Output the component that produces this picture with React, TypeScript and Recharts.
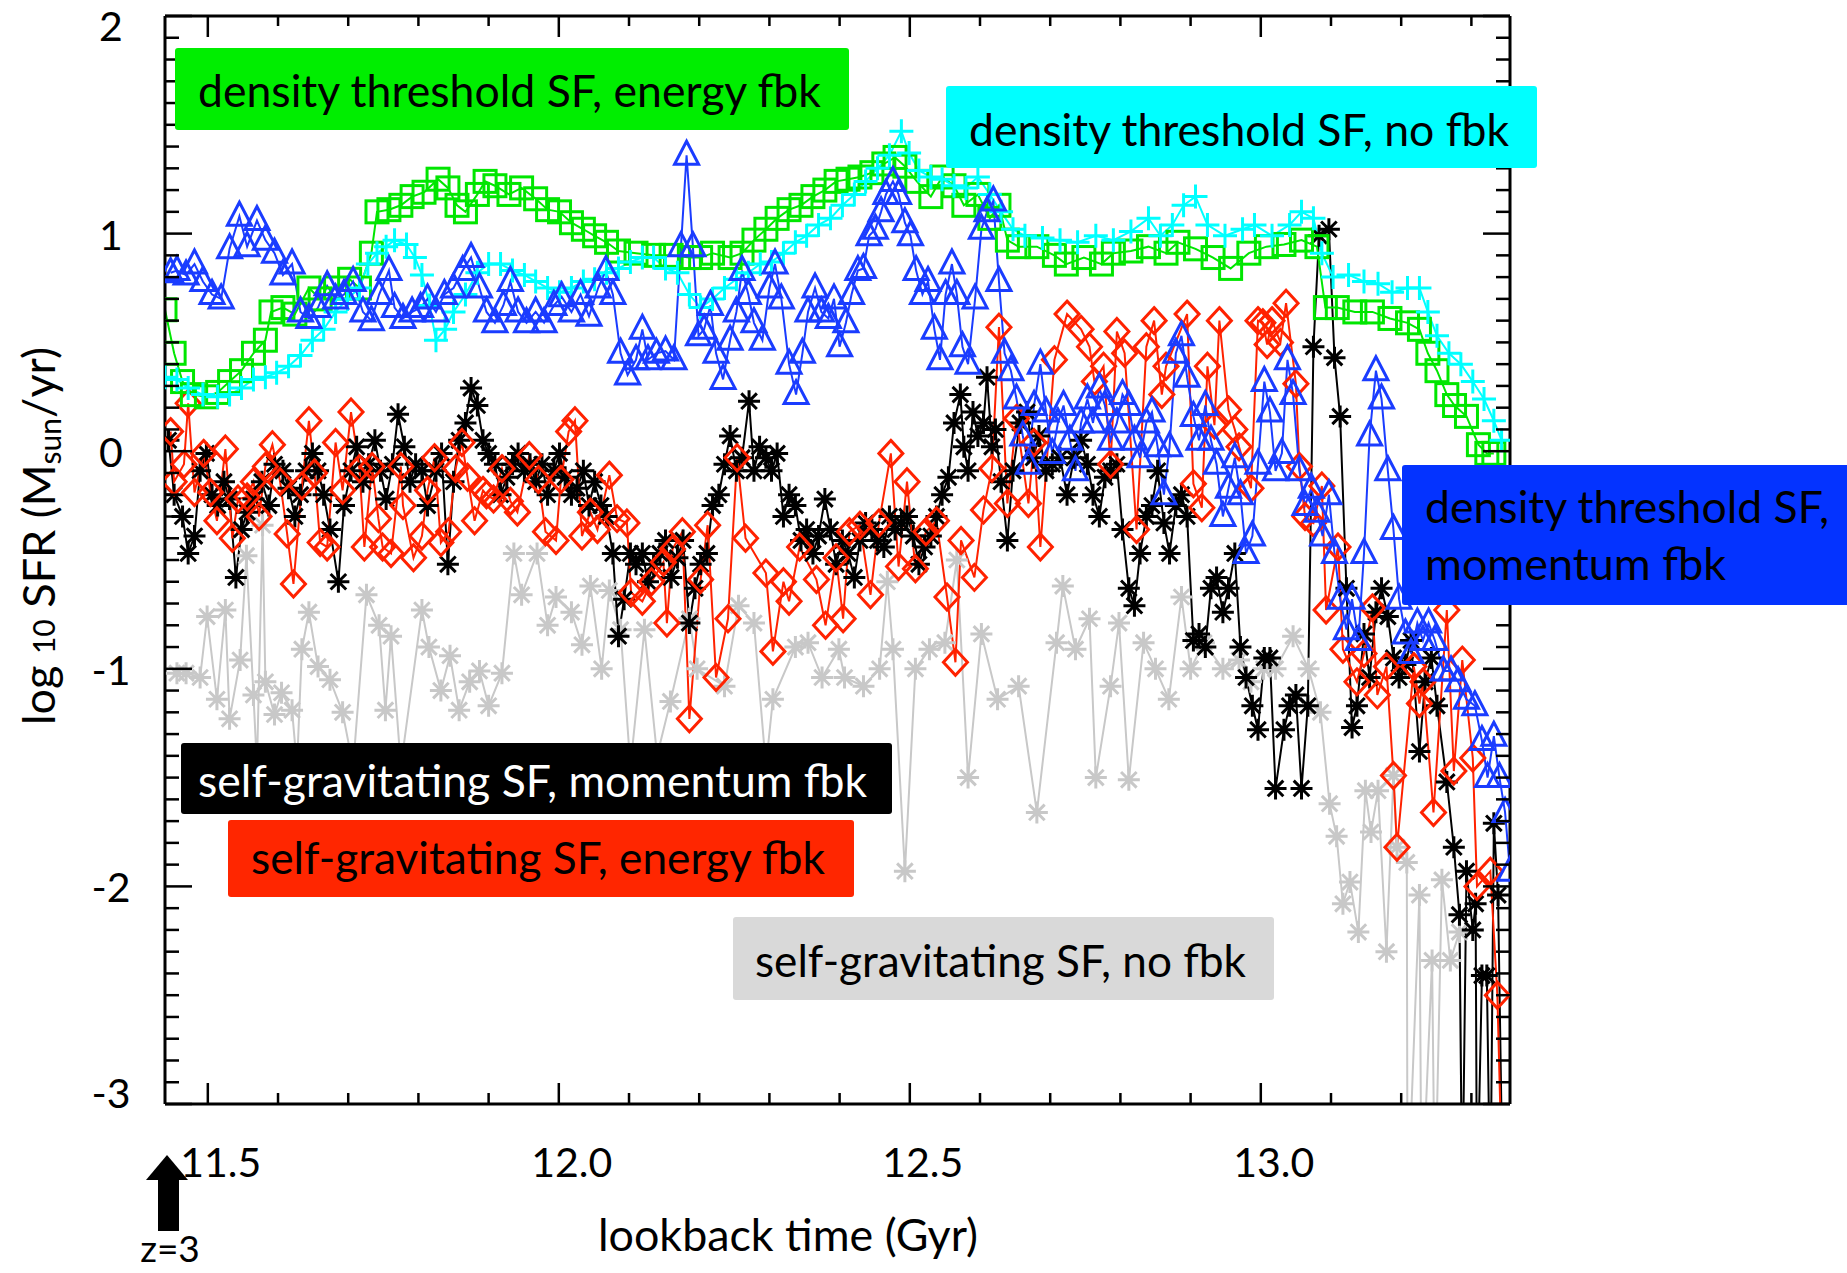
import React from 'react';
import { ComposedChart, Line, XAxis, YAxis } from 'recharts';

const W = 1847;
const H = 1273;
const PLOT = { left: 165, top: 16, right: 1510, bottom: 1104 };
const FONT = 'Lato, "Open Sans", sans-serif';

const X_DOMAIN = [11.439, 13.355];
const Y_DOMAIN = [-3, 2];
const X_TICKS = [11.5, 11.6, 11.7, 11.8, 11.9, 12.0, 12.1, 12.2, 12.3, 12.4, 12.5, 12.6, 12.7, 12.8, 12.9, 13.0, 13.1, 13.2, 13.3];
const X_LABELS = [11.5, 12.0, 12.5, 13.0];
const Y_LABELS = [-3, -2, -1, 0, 1, 2];
const Y_TICKS = Array.from({ length: 51 }, (_, i) => Math.round((-3 + i * 0.1) * 10) / 10);

// density threshold SF, energy fbk
const GREEN = [
  [11.439, 0.65], [11.452, 0.45], [11.464, 0.32], [11.478, 0.26], [11.498, 0.25], [11.514, 0.27], [11.531, 0.32],
  [11.548, 0.37], [11.565, 0.45], [11.582, 0.51], [11.59, 0.64], [11.607, 0.66], [11.624, 0.63], [11.644, 0.75],
  [11.66, 0.7], [11.682, 0.75], [11.702, 0.79], [11.716, 0.75], [11.733, 0.91], [11.741, 1.1], [11.758, 1.11],
  [11.775, 1.13], [11.791, 1.17], [11.808, 1.19], [11.828, 1.25], [11.842, 1.21], [11.855, 1.13], [11.867, 1.1],
  [11.884, 1.18], [11.895, 1.24], [11.909, 1.22], [11.929, 1.18], [11.947, 1.21], [11.967, 1.16], [11.984, 1.11],
  [12.001, 1.1], [12.018, 1.05], [12.035, 1.02], [12.051, 0.99], [12.068, 0.96], [12.085, 0.92], [12.11, 0.91],
  [12.135, 0.9], [12.16, 0.9], [12.186, 0.89], [12.202, 0.89], [12.219, 0.91], [12.244, 0.89], [12.261, 0.91],
  [12.278, 0.97], [12.295, 1.02], [12.311, 1.07], [12.328, 1.11], [12.345, 1.13], [12.362, 1.17], [12.379, 1.2],
  [12.395, 1.24], [12.412, 1.25], [12.429, 1.26], [12.446, 1.28], [12.463, 1.32], [12.479, 1.35], [12.493, 1.31],
  [12.51, 1.24], [12.53, 1.17], [12.546, 1.26], [12.563, 1.22], [12.577, 1.13], [12.597, 1.18], [12.614, 1.07],
  [12.627, 1.13], [12.639, 0.97], [12.655, 0.94], [12.681, 0.94], [12.706, 0.9], [12.723, 0.86], [12.748, 0.89],
  [12.773, 0.86], [12.79, 0.91], [12.815, 0.92], [12.84, 0.94], [12.865, 0.91], [12.882, 0.96], [12.907, 0.93],
  [12.932, 0.89], [12.957, 0.84], [12.983, 0.91], [13.008, 0.94], [13.033, 0.95], [13.058, 0.97], [13.08, 0.94],
  [13.092, 0.66], [13.109, 0.66], [13.134, 0.64], [13.159, 0.64], [13.184, 0.61], [13.209, 0.59], [13.226, 0.56],
  [13.238, 0.45], [13.251, 0.37], [13.265, 0.26], [13.276, 0.21], [13.293, 0.16], [13.31, 0.03], [13.322, -0.01],
  [13.332, -0.01],
];

// density threshold SF, no fbk
const CYAN = [
  [11.439, 0.34], [11.456, 0.33], [11.472, 0.29], [11.493, 0.26], [11.514, 0.25], [11.531, 0.26], [11.548, 0.29],
  [11.565, 0.33], [11.582, 0.34], [11.598, 0.36], [11.615, 0.39], [11.632, 0.44], [11.649, 0.51], [11.665, 0.56],
  [11.682, 0.64], [11.699, 0.7], [11.716, 0.75], [11.728, 0.86], [11.741, 0.91], [11.754, 0.94], [11.766, 0.97],
  [11.783, 0.95], [11.795, 0.89], [11.805, 0.81], [11.816, 0.67], [11.825, 0.51], [11.838, 0.56], [11.85, 0.64],
  [11.867, 0.72], [11.884, 0.82], [11.9, 0.86], [11.917, 0.86], [11.934, 0.83], [11.951, 0.81], [11.967, 0.78],
  [11.984, 0.75], [12.001, 0.73], [12.018, 0.75], [12.035, 0.78], [12.051, 0.79], [12.068, 0.82], [12.085, 0.84],
  [12.102, 0.87], [12.119, 0.89], [12.135, 0.89], [12.152, 0.84], [12.169, 0.82], [12.186, 0.72], [12.202, 0.66],
  [12.219, 0.7], [12.236, 0.75], [12.253, 0.79], [12.27, 0.82], [12.287, 0.86], [12.303, 0.87], [12.32, 0.91],
  [12.337, 0.96], [12.353, 0.99], [12.37, 1.04], [12.387, 1.07], [12.404, 1.13], [12.421, 1.18], [12.437, 1.24],
  [12.454, 1.3], [12.471, 1.36], [12.488, 1.47], [12.499, 1.37], [12.513, 1.29], [12.53, 1.26], [12.546, 1.25],
  [12.563, 1.22], [12.58, 1.21], [12.597, 1.26], [12.614, 1.18], [12.63, 1.1], [12.647, 1.02], [12.664, 0.99],
  [12.689, 0.98], [12.714, 0.97], [12.739, 0.96], [12.765, 0.99], [12.79, 0.97], [12.815, 1.01], [12.84, 1.07],
  [12.857, 0.99], [12.874, 1.04], [12.89, 1.13], [12.907, 1.17], [12.924, 1.04], [12.949, 0.99], [12.974, 1.02],
  [12.991, 1.04], [13.016, 0.99], [13.041, 1.04], [13.058, 1.1], [13.075, 1.07], [13.087, 0.91], [13.103, 0.8],
  [13.125, 0.81], [13.147, 0.78], [13.167, 0.77], [13.187, 0.73], [13.209, 0.75], [13.226, 0.75], [13.238, 0.64],
  [13.251, 0.53], [13.268, 0.45], [13.285, 0.4], [13.302, 0.32], [13.318, 0.24], [13.332, 0.14], [13.343, 0.05],
];

// density threshold SF, momentum fbk
const BLUE = [
  [11.447, 0.82], [11.456, 0.83], [11.469, 0.81], [11.481, 0.86], [11.493, 0.78], [11.506, 0.72], [11.519, 0.7],
  [11.531, 0.93], [11.545, 1.08], [11.556, 0.94], [11.57, 1.06], [11.582, 0.97], [11.595, 0.91], [11.607, 0.81],
  [11.62, 0.86], [11.632, 0.64], [11.644, 0.61], [11.657, 0.66], [11.67, 0.76], [11.682, 0.7], [11.694, 0.72],
  [11.707, 0.78], [11.721, 0.64], [11.733, 0.6], [11.744, 0.72], [11.758, 0.83], [11.766, 0.66], [11.778, 0.61],
  [11.791, 0.64], [11.803, 0.66], [11.813, 0.7], [11.825, 0.64], [11.837, 0.72], [11.85, 0.75], [11.863, 0.83],
  [11.875, 0.89], [11.887, 0.75], [11.897, 0.64], [11.909, 0.59], [11.921, 0.67], [11.931, 0.78], [11.942, 0.64],
  [11.954, 0.59], [11.967, 0.64], [11.979, 0.59], [11.993, 0.67], [12.004, 0.71], [12.018, 0.64], [12.031, 0.72],
  [12.043, 0.62], [12.056, 0.75], [12.067, 0.83], [12.077, 0.72], [12.088, 0.45], [12.098, 0.35], [12.11, 0.42],
  [12.119, 0.56], [12.127, 0.42], [12.139, 0.45], [12.152, 0.46], [12.164, 0.42], [12.174, 0.94], [12.182, 1.36],
  [12.191, 0.94], [12.199, 0.53], [12.207, 0.56], [12.216, 0.67], [12.224, 0.45], [12.234, 0.33], [12.244, 0.51],
  [12.253, 0.64], [12.261, 0.83], [12.27, 0.72], [12.278, 0.59], [12.29, 0.51], [12.3, 0.75], [12.308, 0.86],
  [12.317, 0.7], [12.328, 0.4], [12.338, 0.26], [12.347, 0.45], [12.355, 0.64], [12.365, 0.75], [12.374, 0.64],
  [12.384, 0.61], [12.392, 0.7], [12.4, 0.48], [12.409, 0.59], [12.417, 0.72], [12.426, 0.83], [12.434, 0.84],
  [12.442, 0.99], [12.451, 1.02], [12.459, 1.1], [12.466, 1.18], [12.476, 1.24], [12.484, 1.18], [12.493, 1.05],
  [12.501, 0.99], [12.509, 0.83], [12.518, 0.72], [12.526, 0.78], [12.535, 0.56], [12.543, 0.42], [12.551, 0.72],
  [12.56, 0.86], [12.567, 0.72], [12.575, 0.48], [12.583, 0.4], [12.593, 0.7], [12.602, 1.02], [12.61, 1.1],
  [12.619, 1.15], [12.627, 0.78], [12.635, 0.45], [12.644, 0.37], [12.652, 0.24], [12.661, 0.07], [12.669, -0.06],
  [12.677, 0.21], [12.686, 0.4], [12.694, 0.18], [12.703, -0.01], [12.711, 0.13], [12.719, 0.21], [12.728, 0.05],
  [12.736, -0.09], [12.744, 0.13], [12.753, 0.24], [12.761, 0.13], [12.77, 0.29], [12.778, 0.21], [12.786, 0.05],
  [12.795, 0.13], [12.803, 0.26], [12.812, 0.21], [12.82, 0.05], [12.828, -0.03], [12.837, 0.13], [12.845, 0.18],
  [12.853, 0.02], [12.862, -0.2], [12.87, 0.02], [12.879, 0.45], [12.887, 0.53], [12.895, 0.34], [12.904, 0.16],
  [12.912, 0.05], [12.921, 0.21], [12.929, 0.05], [12.937, -0.06], [12.946, -0.3], [12.954, -0.17], [12.963, -0.03],
  [12.971, -0.2], [12.979, -0.47], [12.988, -0.39], [12.996, -0.06], [13.005, 0.32], [13.013, 0.18], [13.021, -0.09],
  [13.03, -0.01], [13.038, 0.42], [13.046, 0.26], [13.055, -0.09], [13.063, -0.25], [13.072, -0.17], [13.08, -0.28],
  [13.088, -0.39], [13.097, -0.2], [13.105, -0.47], [13.113, -0.68], [13.122, -0.82], [13.13, -0.68], [13.139, -0.87],
  [13.147, -0.47], [13.155, 0.07], [13.164, 0.37], [13.172, 0.24], [13.181, -0.09], [13.189, -0.36], [13.197, -0.68],
  [13.206, -0.84], [13.214, -0.93], [13.223, -0.79], [13.231, -0.87], [13.239, -0.79], [13.248, -0.87], [13.26, -1.01],
  [13.271, -1.01], [13.281, -1.06], [13.293, -1.14], [13.305, -1.17], [13.315, -1.33], [13.323, -1.5], [13.332, -1.31],
  [13.34, -1.5], [13.348, -1.66], [13.355, -1.93],
];

// self-gravitating SF, momentum fbk
const BLACK = [
  [11.444, 0.05], [11.452, -0.2], [11.464, -0.3], [11.472, -0.47], [11.481, -0.39], [11.489, -0.09], [11.498, -0.01],
  [11.506, -0.2], [11.514, -0.25], [11.523, -0.14], [11.531, -0.22], [11.54, -0.58], [11.548, -0.36], [11.556, -0.28],
  [11.565, -0.22], [11.577, -0.14], [11.587, -0.25], [11.595, -0.06], [11.607, -0.09], [11.615, -0.17], [11.624, -0.3],
  [11.632, -0.2], [11.64, -0.09], [11.649, -0.01], [11.657, -0.09], [11.665, -0.2], [11.674, -0.36], [11.686, -0.6],
  [11.694, -0.25], [11.704, -0.09], [11.712, 0.02], [11.721, -0.14], [11.729, -0.06], [11.738, 0.05], [11.746, -0.09],
  [11.754, -0.22], [11.763, -0.06], [11.771, 0.17], [11.78, 0.02], [11.788, -0.14], [11.796, -0.06], [11.805, -0.09],
  [11.813, -0.25], [11.825, -0.09], [11.833, -0.01], [11.842, -0.52], [11.85, -0.14], [11.858, 0.05], [11.867, 0.13],
  [11.875, 0.29], [11.884, 0.21], [11.892, 0.05], [11.9, -0.01], [11.909, -0.06], [11.917, -0.2], [11.926, -0.12],
  [11.934, -0.06], [11.942, -0.01], [11.951, -0.09], [11.959, -0.06], [11.967, -0.14], [11.976, -0.06], [11.984, -0.2],
  [11.993, -0.09], [12.001, -0.01], [12.009, -0.12], [12.018, -0.2], [12.026, -0.17], [12.035, -0.09], [12.043, -0.25],
  [12.051, -0.14], [12.06, -0.25], [12.068, -0.3], [12.077, -0.47], [12.085, -0.85], [12.093, -0.68], [12.102, -0.47],
  [12.11, -0.52], [12.119, -0.47], [12.127, -0.6], [12.135, -0.52], [12.144, -0.47], [12.152, -0.41], [12.16, -0.58],
  [12.169, -0.49], [12.177, -0.41], [12.186, -0.79], [12.194, -0.63], [12.202, -0.52], [12.211, -0.47], [12.219, -0.25],
  [12.228, -0.2], [12.236, -0.06], [12.244, 0.07], [12.253, -0.09], [12.261, -0.03], [12.271, 0.23], [12.278, -0.09],
  [12.286, 0.02], [12.295, -0.03], [12.303, -0.09], [12.311, -0.01], [12.32, -0.3], [12.328, -0.2], [12.337, -0.25],
  [12.345, -0.41], [12.353, -0.36], [12.362, -0.47], [12.37, -0.39], [12.379, -0.22], [12.387, -0.36], [12.395, -0.52],
  [12.404, -0.41], [12.412, -0.47], [12.421, -0.58], [12.429, -0.41], [12.437, -0.33], [12.446, -0.36], [12.454, -0.41],
  [12.463, -0.44], [12.471, -0.3], [12.479, -0.36], [12.488, -0.33], [12.496, -0.3], [12.505, -0.39], [12.513, -0.52],
  [12.521, -0.44], [12.53, -0.39], [12.538, -0.3], [12.546, -0.2], [12.555, -0.12], [12.563, 0.13], [12.572, 0.26],
  [12.577, 0.02], [12.583, -0.09], [12.59, 0.18], [12.597, 0.07], [12.605, 0.13], [12.61, 0.34], [12.617, 0.02],
  [12.622, 0.1], [12.63, -0.14], [12.639, -0.41], [12.647, -0.09], [12.657, 0.13], [12.667, 0.18], [12.676, -0.03],
  [12.684, 0.07], [12.694, -0.09], [12.703, -0.06], [12.714, -0.03], [12.724, -0.2], [12.734, -0.03], [12.744, 0.05],
  [12.753, -0.06], [12.761, -0.2], [12.77, -0.3], [12.778, -0.12], [12.786, -0.09], [12.795, -0.06], [12.803, -0.36],
  [12.812, -0.63], [12.82, -0.71], [12.828, -0.47], [12.837, -0.3], [12.845, -0.25], [12.853, -0.09], [12.862, -0.33],
  [12.87, -0.47], [12.879, -0.25], [12.887, -0.2], [12.895, -0.3], [12.904, -0.87], [12.912, -0.84], [12.921, -0.9],
  [12.929, -0.63], [12.937, -0.58], [12.946, -0.74], [12.954, -0.63], [12.963, -0.47], [12.971, -0.9], [12.979, -1.04],
  [12.988, -1.17], [12.996, -1.28], [13.005, -0.95], [13.013, -0.95], [13.021, -1.55], [13.033, -1.28], [13.041, -1.17],
  [13.05, -1.12], [13.058, -1.55], [13.067, -1.17], [13.075, 0.48], [13.083, 0.99], [13.097, 1.02], [13.105, 0.43],
  [13.113, 0.16], [13.122, -0.63], [13.13, -1.27], [13.137, -1.17], [13.147, -0.84], [13.155, -1.04], [13.164, -0.74],
  [13.172, -0.63], [13.181, -0.76], [13.189, -0.95], [13.197, -1.04], [13.206, -0.98], [13.214, -0.87], [13.226, -1.38],
  [13.234, -1.06], [13.243, -0.95], [13.251, -1.17], [13.265, -1.52], [13.275, -1.82], [13.283, -2.13], [13.287, -3.5],
  [13.293, -1.93], [13.302, -2.2], [13.306, -2.08], [13.308, -3.5], [13.315, -2.41], [13.322, -2.41], [13.327, -3.5],
  [13.332, -1.71], [13.338, -2.04], [13.345, -3.5],
];

// self-gravitating SF, energy fbk
const RED = [
  [11.447, 0.09], [11.452, -0.14], [11.466, -0.06], [11.472, 0.22], [11.481, -0.19], [11.494, -0.01], [11.504, -0.19],
  [11.513, -0.32], [11.525, 0.01], [11.535, -0.4], [11.543, -0.22], [11.556, -0.21], [11.565, -0.14], [11.573, -0.3],
  [11.582, -0.07], [11.592, 0.03], [11.603, -0.14], [11.613, -0.38], [11.622, -0.61], [11.634, -0.16], [11.644, 0.14],
  [11.652, -0.1], [11.66, -0.42], [11.67, -0.44], [11.682, 0.04], [11.692, -0.18], [11.704, 0.18], [11.716, -0.08],
  [11.723, -0.44], [11.734, -0.07], [11.743, -0.31], [11.749, -0.44], [11.761, -0.47], [11.775, -0.07], [11.778, -0.25],
  [11.793, -0.49], [11.805, -0.39], [11.813, -0.18], [11.823, -0.03], [11.832, -0.42], [11.843, -0.37], [11.853, -0.08],
  [11.862, 0.04], [11.87, -0.12], [11.88, -0.32], [11.892, -0.18], [11.897, -0.2], [11.907, -0.22], [11.919, -0.08],
  [11.931, -0.23], [11.941, -0.28], [11.958, -0.02], [11.971, -0.13], [11.981, -0.37], [11.996, -0.41], [12.003, -0.13],
  [12.014, 0.09], [12.023, 0.14], [12.033, -0.39], [12.045, -0.28], [12.055, -0.36], [12.072, -0.11], [12.083, -0.31],
  [12.097, -0.33], [12.103, -0.65], [12.119, -0.69], [12.132, -0.6], [12.149, -0.51], [12.154, -0.79], [12.162, -0.45],
  [12.176, -0.37], [12.186, -1.23], [12.202, -0.59], [12.212, -0.34], [12.224, -1.04], [12.241, -0.77], [12.254, -0.03],
  [12.266, -0.4], [12.295, -0.56], [12.305, -0.92], [12.32, -0.6], [12.328, -0.69], [12.343, -0.44], [12.367, -0.59],
  [12.38, -0.8], [12.395, -0.49], [12.405, -0.77], [12.414, -0.37], [12.429, -0.34], [12.444, -0.66], [12.456, -0.33],
  [12.473, -0.01], [12.484, -0.53], [12.496, -0.14], [12.508, -0.54], [12.523, -0.37], [12.538, -0.32], [12.553, -0.67],
  [12.565, -0.97], [12.573, -0.41], [12.592, -0.58], [12.605, -0.27], [12.617, -0.08], [12.627, 0.57], [12.639, -0.24],
  [12.652, 0.15], [12.669, -0.24], [12.677, 0.04], [12.686, -0.44], [12.706, 0.42], [12.724, 0.63], [12.744, 0.56],
  [12.756, 0.48], [12.763, 0.32], [12.776, 0.39], [12.786, -0.06], [12.795, 0.55], [12.806, 0.45], [12.823, -0.36],
  [12.837, 0.48], [12.848, 0.6], [12.859, 0.26], [12.865, 0.39], [12.895, 0.63], [12.904, -0.15], [12.916, -0.26],
  [12.924, 0.39], [12.934, 0.12], [12.941, 0.6], [12.954, 0.19], [12.963, 0.1], [12.969, 0.02], [12.986, -0.17],
  [12.996, 0.6], [13.003, 0.59], [13.009, 0.49], [13.016, 0.6], [13.028, 0.5], [13.036, 0.68], [13.05, 0.31],
  [13.055, -0.07], [13.063, -0.3], [13.075, -0.33], [13.087, -0.16], [13.093, -0.73], [13.11, -0.44], [13.117, -0.91],
  [13.137, -1.06], [13.147, -0.93], [13.159, -0.72], [13.166, -1.12], [13.179, -0.99], [13.189, -1.49], [13.194, -1.82],
  [13.218, -0.99], [13.226, -1.16], [13.231, -1.06], [13.246, -1.66], [13.265, -0.73], [13.275, -1.47], [13.287, -0.96],
  [13.302, -1.41], [13.308, -2.0], [13.327, -1.93], [13.337, -2.5], [13.345, -3.5],
];

// self-gravitating SF, no fbk
const GREY = [
  [11.456, -1.02], [11.469, -1.02], [11.489, -1.04], [11.499, -0.76], [11.513, -1.14], [11.525, -0.73], [11.531, -1.23],
  [11.546, -0.96], [11.555, -0.48], [11.565, -1.12], [11.57, -1.45], [11.578, -0.34], [11.582, -1.06], [11.595, -1.21],
  [11.605, -1.11], [11.62, -1.19], [11.627, -1.45], [11.634, -0.91], [11.644, -0.74], [11.657, -0.99], [11.674, -1.05],
  [11.692, -1.2], [11.707, -1.45], [11.726, -0.66], [11.744, -0.8], [11.753, -1.19], [11.761, -0.85], [11.775, -1.45],
  [11.805, -0.73], [11.815, -0.9], [11.832, -1.1], [11.845, -0.94], [11.858, -1.19], [11.873, -1.06], [11.887, -1.01],
  [11.9, -1.17], [11.919, -1.02], [11.936, -0.47], [11.947, -0.66], [11.969, -0.47], [11.984, -0.8], [11.996, -0.67],
  [12.018, -0.74], [12.033, -0.89], [12.045, -0.62], [12.061, -1.0], [12.072, -0.64], [12.088, -0.82], [12.102, -1.45],
  [12.122, -0.82], [12.14, -1.4], [12.159, -1.15], [12.186, -0.77], [12.197, -1.0], [12.236, -1.08], [12.256, -0.71],
  [12.278, -0.79], [12.295, -1.45], [12.305, -1.14], [12.337, -0.9], [12.355, -0.88], [12.375, -1.04], [12.399, -0.91],
  [12.407, -1.04], [12.434, -1.08], [12.457, -1.0], [12.468, -0.6], [12.476, -0.91], [12.493, -1.93], [12.508, -1.0],
  [12.528, -0.91], [12.55, -0.88], [12.567, -0.5], [12.583, -1.5], [12.602, -0.84], [12.625, -1.14], [12.655, -1.08],
  [12.681, -1.66], [12.709, -0.88], [12.718, -0.62], [12.736, -0.91], [12.756, -0.77], [12.765, -1.5], [12.786, -1.08],
  [12.798, -0.79], [12.812, -1.51], [12.833, -0.88], [12.85, -1.0], [12.869, -1.14], [12.887, -0.67], [12.9, -1.0],
  [12.919, -0.88], [12.946, -1.0], [12.969, -0.96], [12.986, -1.06], [13.004, -1.0], [13.021, -1.0], [13.046, -0.85],
  [13.068, -1.0], [13.085, -1.2], [13.098, -1.62], [13.108, -1.77], [13.117, -2.08], [13.127, -1.98], [13.139, -2.21],
  [13.149, -1.56], [13.157, -1.75], [13.167, -1.56], [13.179, -2.3], [13.189, -1.49], [13.194, -1.82], [13.208, -1.89],
  [13.209, -3.5], [13.226, -2.04], [13.229, -3.5], [13.244, -2.34], [13.248, -3.5], [13.258, -1.97], [13.27, -2.34],
  [13.283, -2.21], [13.287, -3.5],
];

const rows = (pairs: number[][]) => pairs.map(([t, y]) => ({ t, y }));

const SERIES = [
  { name: 'self-gravitating SF, no fbk', data: GREY, color: '#c8c8c8', mark: 'star' },
  { name: 'self-gravitating SF, momentum fbk', data: BLACK, color: '#000000', mark: 'star' },
  { name: 'self-gravitating SF, energy fbk', data: RED, color: '#ff2200', mark: 'diamond' },
  { name: 'density threshold SF, energy fbk', data: GREEN, color: '#00e600', mark: 'square' },
  { name: 'density threshold SF, no fbk', data: CYAN, color: '#00ffff', mark: 'plus' },
  { name: 'density threshold SF, momentum fbk', data: BLUE, color: '#1a3cff', mark: 'triangle' },
];

const makeDot = (mark: string, color: string) => (p: any) => {
  const { cx, cy, index } = p;
  const key = `m${index}`;
  if (cx == null || cy == null || isNaN(cx) || isNaN(cy)) return <g key={key} />;
  const s = { fill: 'none', stroke: color, strokeWidth: 3 };
  if (mark === 'square') return <rect key={key} x={cx - 11} y={cy - 11} width={22} height={22} {...s} />;
  if (mark === 'triangle')
    return <polygon key={key} points={`${cx},${cy - 14} ${cx - 12},${cy + 9} ${cx + 12},${cy + 9}`} {...s} />;
  if (mark === 'diamond')
    return <polygon key={key} points={`${cx},${cy - 13} ${cx + 12},${cy} ${cx},${cy + 13} ${cx - 12},${cy}`} {...s} />;
  if (mark === 'plus') return <path key={key} d={`M${cx - 12},${cy}H${cx + 12}M${cx},${cy - 12}V${cy + 12}`} {...s} />;
  const r = 11;
  const d = 7.8;
  return (
    <path
      key={key}
      d={`M${cx - r},${cy}H${cx + r}M${cx},${cy - r}V${cy + r}M${cx - d},${cy - d}L${cx + d},${cy + d}M${cx - d},${cy + d}L${cx + d},${cy - d}`}
      {...s}
    />
  );
};

const isMajorX = (v: number) => X_LABELS.some((m) => Math.abs(m - v) < 1e-6);
const isMajorY = (v: number) => Y_LABELS.some((m) => Math.abs(m - v) < 1e-6);

const BottomTick = (props: any) => {
  const { x, payload } = props;
  const v = payload.value;
  const major = isMajorX(v);
  return (
    <g>
      <line x1={x} x2={x} y1={PLOT.bottom} y2={PLOT.bottom - (major ? 21 : 11)} stroke="#000" strokeWidth={2.5} />
      {major && (
        <text x={x + 13} y={1177} textAnchor="middle" fontFamily={FONT} fontSize={41} fill="#000">
          {v.toFixed(1)}
        </text>
      )}
    </g>
  );
};

const TopTick = (props: any) => {
  const { x, payload } = props;
  const major = isMajorX(payload.value);
  return <line x1={x} x2={x} y1={PLOT.top} y2={PLOT.top + (major ? 21 : 10)} stroke="#000" strokeWidth={2.5} />;
};

const LeftTick = (props: any) => {
  const { y, payload } = props;
  const v = payload.value;
  const major = isMajorY(v);
  const shift = v === 2 ? 25 : v === -3 ? 4 : 16;
  return (
    <g>
      <line x1={PLOT.left} x2={PLOT.left + (major ? 27 : 14)} y1={y} y2={y} stroke="#000" strokeWidth={2.5} />
      {major && (
        <text x={111} y={y + shift} textAnchor="middle" fontFamily={FONT} fontSize={41} fill="#000">
          {v}
        </text>
      )}
    </g>
  );
};

const RightTick = (props: any) => {
  const { y, payload } = props;
  const major = isMajorY(payload.value);
  return <line x1={PLOT.right} x2={PLOT.right - (major ? 27 : 14)} y1={y} y2={y} stroke="#000" strokeWidth={2.5} />;
};

const BOXES = [
  { x: 175, y: 48, w: 674, h: 82, fill: '#00ee00', color: '#000', lines: [{ text: 'density threshold SF, energy fbk', x: 198, y: 107, len: 623 }] },
  { x: 946, y: 86, w: 591, h: 82, fill: '#00ffff', color: '#000', lines: [{ text: 'density threshold SF, no fbk', x: 969, y: 146, len: 540 }] },
  {
    x: 1402, y: 465, w: 460, h: 140, fill: '#0433ff', color: '#000',
    lines: [
      { text: 'density threshold SF,', x: 1425, y: 523, len: 404 },
      { text: 'momentum fbk', x: 1425, y: 580, len: 301 },
    ],
  },
  { x: 181, y: 743, w: 711, h: 71, fill: '#000000', color: '#fff', lines: [{ text: 'self-gravitating SF, momentum fbk', x: 198, y: 797, len: 669 }] },
  { x: 228, y: 820, w: 626, h: 77, fill: '#ff2600', color: '#000', lines: [{ text: 'self-gravitating SF, energy fbk', x: 251, y: 874, len: 574 }] },
  { x: 733, y: 917, w: 541, h: 83, fill: '#d9d9d9', color: '#000', lines: [{ text: 'self-gravitating SF, no fbk', x: 755, y: 977, len: 491 }] },
];

const AXIS_LINE = { stroke: '#000', strokeWidth: 3 };

export default function App() {
  return (
    <div style={{ position: 'absolute', left: 0, top: 0, width: W, height: H, background: '#fff' }}>
      <ComposedChart
        width={W}
        height={H}
        margin={{ top: PLOT.top - 1, left: PLOT.left - 1, right: W - PLOT.right - 1, bottom: H - PLOT.bottom - 1 }}
      >
        <XAxis
          xAxisId="b"
          dataKey="t"
          type="number"
          domain={X_DOMAIN}
          allowDataOverflow
          ticks={X_TICKS}
          interval={0}
          height={1}
          tickLine={false}
          axisLine={AXIS_LINE}
          tick={(p: any) => <BottomTick {...p} />}
        />
        <XAxis
          xAxisId="t"
          orientation="top"
          dataKey="t"
          type="number"
          domain={X_DOMAIN}
          allowDataOverflow
          ticks={X_TICKS}
          interval={0}
          height={1}
          tickLine={false}
          axisLine={AXIS_LINE}
          tick={(p: any) => <TopTick {...p} />}
        />
        <YAxis
          yAxisId="l"
          type="number"
          domain={Y_DOMAIN}
          allowDataOverflow
          ticks={Y_TICKS}
          interval={0}
          width={1}
          tickLine={false}
          axisLine={AXIS_LINE}
          tick={(p: any) => <LeftTick {...p} />}
        />
        <YAxis
          yAxisId="r"
          orientation="right"
          type="number"
          domain={Y_DOMAIN}
          allowDataOverflow
          ticks={Y_TICKS}
          interval={0}
          width={1}
          tickLine={false}
          axisLine={AXIS_LINE}
          tick={(p: any) => <RightTick {...p} />}
        />
        {SERIES.map((s) => (
          <Line
            key={s.name}
            name={s.name}
            xAxisId="b"
            yAxisId="l"
            data={rows(s.data)}
            dataKey="y"
            type="linear"
            stroke={s.color}
            strokeWidth={2}
            dot={makeDot(s.mark, s.color)}
            activeDot={false}
            isAnimationActive={false}
          />
        ))}
      </ComposedChart>
      <svg width={W} height={H} style={{ position: 'absolute', left: 0, top: 0, pointerEvents: 'none' }}>
        {BOXES.map((b, i) => (
          <g key={i}>
            <rect x={b.x} y={b.y} width={b.w} height={b.h} rx={3} fill={b.fill} />
            {b.lines.map((l, j) => (
              <text
                key={j}
                x={l.x}
                y={l.y}
                fontFamily={FONT}
                fontSize={44}
                fill={b.color}
                textLength={l.len}
                lengthAdjust="spacingAndGlyphs"
              >
                {l.text}
              </text>
            ))}
          </g>
        ))}
        <text
          transform="translate(55,536) rotate(-90)"
          textAnchor="middle"
          fontFamily={FONT}
          fontSize={45}
          fill="#000"
        >
          log <tspan fontSize={30}>10</tspan> SFR (M<tspan fontSize={30} dy={6}>sun</tspan>
          <tspan dy={-6}>/yr)</tspan>
        </text>
        <text x={788} y={1251} textAnchor="middle" fontFamily={FONT} fontSize={45} fill="#000" textLength={380} lengthAdjust="spacingAndGlyphs">
          lookback time (Gyr)
        </text>
        <polygon points="167,1155 146,1180 188,1180" fill="#000" />
        <rect x={158} y={1179} width={21} height={52} fill="#000" />
        <text x={170} y={1262} textAnchor="middle" fontFamily={FONT} fontSize={37} fill="#000">
          z=3
        </text>
      </svg>
    </div>
  );
}
